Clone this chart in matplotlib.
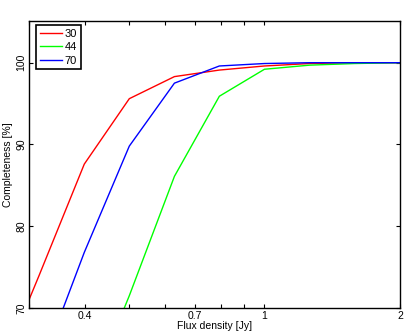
#!/usr/bin/env python3
"""Completeness vs flux density for the three frequency channels."""

import matplotlib

matplotlib.use("Agg")
import matplotlib.pyplot as plt
from matplotlib.ticker import FixedLocator, NullFormatter

# flux density bins (Jy), 0.1 dex spacing
flux = [0.251, 0.316, 0.398, 0.501, 0.631, 0.794, 1.0, 1.259, 1.585, 1.995]

comp_30 = [60.7, 74.0, 87.6, 95.6, 98.3, 99.1, 99.6, 99.9, 100.0, 100.0]
comp_44 = [30.0, 45.0, 58.0, 71.5, 86.1, 95.9, 99.2, 99.7, 99.9, 100.0]
comp_70 = [48.0, 62.2, 76.8, 89.8, 97.5, 99.6, 99.9, 100.0, 100.0, 100.0]

channels = ["30", "44", "70"]
colors = ["#FF0000", "#00FF00", "#0000FF"]

x_major = [0.4, 0.7, 1, 2]
x_major_labels = ["0.4", "0.7", "1", "2"]
x_minor = [0.3, 0.5, 0.6, 0.8, 0.9]
y_ticks = [70, 80, 90, 100]

plt.rcParams.update(
    {
        "font.family": ["Liberation Sans", "DejaVu Sans"],
        "font.size": 7.5,
    }
)

fig = plt.figure(figsize=(4.15, 3.33), dpi=100)
ax = fig.add_axes([0.0699, 0.0751, 0.894, 0.8618])

for label, values, color in zip(channels, [comp_30, comp_44, comp_70], colors):
    ax.plot(flux, values, color=color, lw=1.0, label=label)

ax.set_xscale("log")
ax.set_xlim(0.3, 2.0)
ax.set_ylim(70, 105.1)

ax.xaxis.set_major_locator(FixedLocator(x_major))
ax.xaxis.set_minor_locator(FixedLocator(x_minor))
ax.set_xticklabels(x_major_labels)
ax.xaxis.set_minor_formatter(NullFormatter())
ax.set_yticks(y_ticks)
ax.set_yticklabels([str(v) for v in y_ticks], rotation=90, va="center")

ax.tick_params(which="both", direction="in", top=True, right=True,
               length=3, width=0.8, pad=2)
for spine in ax.spines.values():
    spine.set_linewidth(1.0)

ax.set_xlabel("Flux density [Jy]", labelpad=0)
ax.set_ylabel("Completeness [%]", labelpad=2)

leg = ax.legend(loc="upper left", bbox_to_anchor=(0.019, 0.986),
                fontsize=8, handlelength=2.0, handletextpad=0.2,
                borderpad=0.35, labelspacing=0.3, borderaxespad=0,
                fancybox=False, framealpha=1)
leg.get_frame().set_edgecolor("black")
leg.get_frame().set_linewidth(1.2)

fig.savefig("out.png", dpi=100)
